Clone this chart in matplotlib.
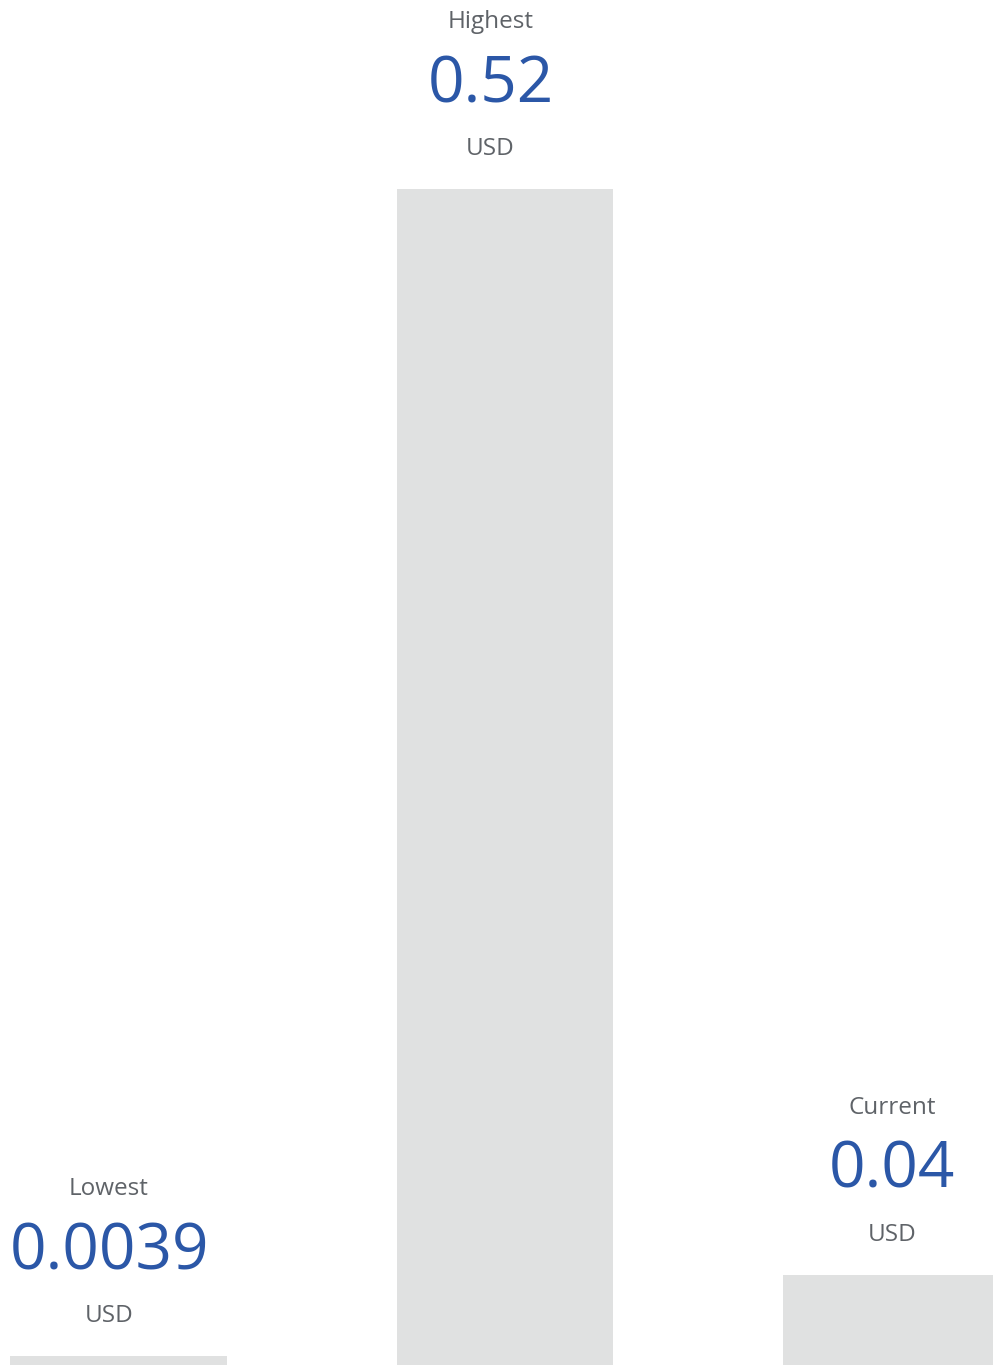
import matplotlib
matplotlib.use("Agg")
import matplotlib.pyplot as plt

plt.rcParams['font.family'] = ['Open Sans', 'DejaVu Sans']

labels = ["Lowest", "Highest", "Current"]
values = [0.0039, 0.52, 0.04]
value_text = ["0.0039", "0.52", "0.04"]
unit = "USD"

bar_color = "#e0e1e1"
blue = "#2b57a7"
grey = "#5f6368"

fig = plt.figure(figsize=(9.93, 13.65), dpi=100)
ax = fig.add_axes([0, 0, 1, 1])
ax.axis("off")

xs = list(range(len(values)))
ax.bar(xs, values, width=0.559, color=bar_color, linewidth=0)
ax.set_xlim(-0.3066, 2.2626)
ax.set_ylim(0, 0.6036)

# small horizontal nudge of the text block per bar (pixels)
dx = [-9.5, -14.5, 0.5]
for x, v, lab, txt, d in zip(xs, values, labels, value_text, dx):
    ax.annotate(lab, (x, v), xytext=(d, 161), textcoords="offset pixels",
                ha="center", va="baseline", fontsize=17.5, color=grey,
                annotation_clip=False)
    ax.annotate(txt, (x, v), xytext=(d, 87), textcoords="offset pixels",
                ha="center", va="baseline", fontsize=46, color=blue,
                annotation_clip=False)
    ax.annotate(unit, (x, v), xytext=(d, 34), textcoords="offset pixels",
                ha="center", va="baseline", fontsize=17.5, color=grey,
                annotation_clip=False)

fig.savefig("out.png", dpi=100)
